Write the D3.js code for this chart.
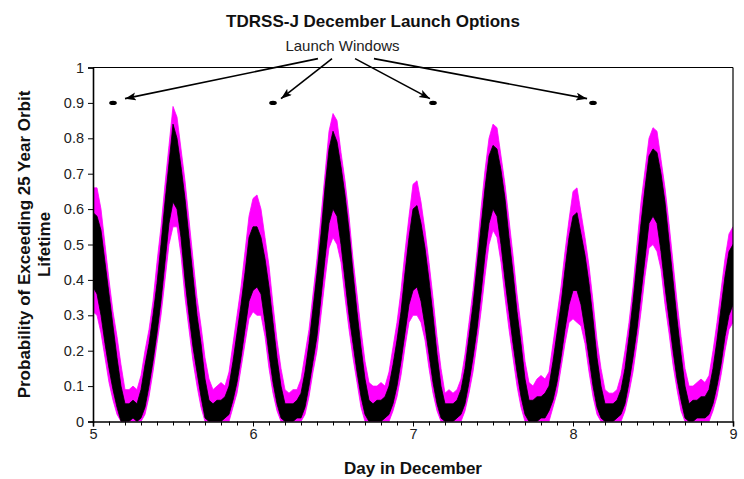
<!DOCTYPE html>
<html>
<head>
<meta charset="utf-8">
<script src="https://cdn.jsdelivr.net/npm/d3@7"></script>
<style>
  html, body { margin: 0; padding: 0; background: #ffffff; }
  svg { display: block; }
  text { font-family: "Liberation Sans", Arial, sans-serif; }
</style>
</head>
<body>
<svg id="chart" width="744" height="479"></svg>
<script>
// ---------------- data ----------------
const days = [
  5.000,5.025,5.050,5.075,5.100,5.125,5.150,5.175,5.200,5.225,5.250,5.275,5.300,5.325,5.350,5.375,5.400,5.425,5.450,5.475,
  5.500,5.525,5.550,5.575,5.600,5.625,5.650,5.675,5.700,5.725,5.750,5.775,5.800,5.825,5.850,5.875,5.900,5.925,5.950,5.975,
  6.000,6.025,6.050,6.075,6.100,6.125,6.150,6.175,6.200,6.225,6.250,6.275,6.300,6.325,6.350,6.375,6.400,6.425,6.450,6.475,
  6.500,6.525,6.550,6.575,6.600,6.625,6.650,6.675,6.700,6.725,6.750,6.775,6.800,6.825,6.850,6.875,6.900,6.925,6.950,6.975,
  7.000,7.025,7.050,7.075,7.100,7.125,7.150,7.175,7.200,7.225,7.250,7.275,7.300,7.325,7.350,7.375,7.400,7.425,7.450,7.475,
  7.500,7.525,7.550,7.575,7.600,7.625,7.650,7.675,7.700,7.725,7.750,7.775,7.800,7.825,7.850,7.875,7.900,7.925,7.950,7.975,
  8.000,8.025,8.050,8.075,8.100,8.125,8.150,8.175,8.200,8.225,8.250,8.275,8.300,8.325,8.350,8.375,8.400,8.425,8.450,8.475,
  8.500,8.525,8.550,8.575,8.600,8.625,8.650,8.675,8.700,8.725,8.750,8.775,8.800,8.825,8.850,8.875,8.900,8.925,8.950,8.975,
  9.000
];
// black band (central estimate spread), lower and upper edge
const blackLow = [
  0.38,0.36,0.30,0.22,0.15,0.09,0.04,0.00,0.00,0.00,0.01,0.00,0.01,0.04,0.10,0.17,0.25,0.34,0.45,0.56,
  0.62,0.60,0.52,0.40,0.30,0.21,0.14,0.07,0.01,0.00,0.00,0.00,0.00,0.01,0.02,0.06,0.11,0.18,0.26,0.34,
  0.37,0.38,0.36,0.28,0.19,0.11,0.05,0.01,0.00,0.00,0.00,0.01,0.01,0.04,0.10,0.17,0.24,0.35,0.46,0.56,
  0.60,0.58,0.50,0.40,0.30,0.22,0.14,0.07,0.02,0.00,0.00,0.00,0.00,0.01,0.02,0.05,0.10,0.17,0.25,0.33,
  0.37,0.38,0.34,0.27,0.19,0.11,0.05,0.01,0.00,0.00,0.00,0.01,0.02,0.05,0.11,0.18,0.26,0.36,0.47,0.56,
  0.60,0.58,0.50,0.40,0.31,0.22,0.14,0.07,0.02,0.00,0.00,0.00,0.01,0.01,0.03,0.06,0.11,0.18,0.26,0.33,
  0.37,0.37,0.33,0.26,0.18,0.10,0.04,0.01,0.00,0.00,0.00,0.01,0.02,0.05,0.11,0.18,0.26,0.36,0.46,0.56,
  0.58,0.56,0.48,0.38,0.29,0.20,0.12,0.06,0.01,0.00,0.00,0.01,0.01,0.01,0.02,0.05,0.10,0.16,0.24,0.30,
  0.33
];
const blackHigh = [
  0.59,0.58,0.54,0.45,0.36,0.27,0.18,0.10,0.05,0.05,0.06,0.05,0.09,0.16,0.22,0.30,0.39,0.50,0.62,0.73,
  0.84,0.80,0.72,0.63,0.52,0.41,0.30,0.22,0.12,0.06,0.05,0.06,0.06,0.07,0.10,0.17,0.25,0.33,0.42,0.52,
  0.55,0.55,0.52,0.46,0.38,0.28,0.18,0.10,0.05,0.05,0.05,0.06,0.08,0.14,0.22,0.32,0.42,0.53,0.66,0.77,
  0.82,0.79,0.72,0.64,0.54,0.42,0.31,0.21,0.12,0.06,0.05,0.06,0.06,0.07,0.10,0.16,0.23,0.31,0.42,0.52,
  0.60,0.61,0.56,0.49,0.40,0.30,0.19,0.10,0.05,0.05,0.05,0.06,0.09,0.15,0.24,0.33,0.44,0.55,0.66,0.75,
  0.78,0.77,0.71,0.63,0.52,0.42,0.31,0.22,0.12,0.06,0.06,0.07,0.07,0.08,0.10,0.17,0.25,0.33,0.43,0.52,
  0.58,0.59,0.53,0.47,0.39,0.29,0.18,0.10,0.05,0.05,0.05,0.06,0.09,0.15,0.24,0.34,0.45,0.56,0.66,0.75,
  0.77,0.76,0.70,0.62,0.51,0.40,0.29,0.19,0.10,0.05,0.06,0.06,0.07,0.07,0.09,0.15,0.23,0.32,0.41,0.48,
  0.50
];
// magenta band (full spread), lower and upper edge
const magentaLow = [
  0.31,0.30,0.25,0.18,0.11,0.06,0.02,0.00,0.00,0.00,0.00,0.00,0.00,0.02,0.07,0.14,0.22,0.30,0.40,0.50,
  0.55,0.55,0.47,0.35,0.26,0.17,0.10,0.04,0.00,0.00,0.00,0.00,0.00,0.00,0.00,0.04,0.08,0.15,0.22,0.29,
  0.31,0.30,0.30,0.24,0.15,0.08,0.03,0.00,0.00,0.00,0.00,0.00,0.00,0.02,0.07,0.14,0.20,0.30,0.40,0.49,
  0.52,0.50,0.45,0.35,0.26,0.18,0.11,0.04,0.00,0.00,0.00,0.00,0.00,0.00,0.00,0.03,0.07,0.13,0.21,0.28,
  0.30,0.30,0.28,0.23,0.15,0.08,0.03,0.00,0.00,0.00,0.00,0.00,0.00,0.03,0.08,0.14,0.22,0.31,0.41,0.50,
  0.54,0.52,0.45,0.35,0.26,0.18,0.10,0.04,0.00,0.00,0.00,0.00,0.00,0.00,0.00,0.04,0.08,0.15,0.22,0.28,
  0.29,0.28,0.27,0.22,0.14,0.07,0.02,0.00,0.00,0.00,0.00,0.00,0.00,0.03,0.08,0.14,0.22,0.31,0.41,0.49,
  0.50,0.48,0.43,0.33,0.25,0.16,0.09,0.03,0.00,0.00,0.00,0.00,0.00,0.00,0.00,0.03,0.07,0.13,0.20,0.26,
  0.28
];
const magentaHigh = [
  0.66,0.66,0.60,0.50,0.40,0.31,0.24,0.16,0.09,0.09,0.10,0.09,0.13,0.20,0.26,0.34,0.45,0.55,0.67,0.78,
  0.89,0.86,0.77,0.68,0.57,0.46,0.35,0.27,0.18,0.12,0.09,0.10,0.11,0.10,0.14,0.22,0.30,0.38,0.48,0.58,
  0.63,0.64,0.60,0.52,0.44,0.33,0.23,0.15,0.09,0.08,0.09,0.09,0.12,0.19,0.26,0.36,0.46,0.58,0.70,0.82,
  0.87,0.85,0.76,0.68,0.58,0.46,0.36,0.26,0.17,0.11,0.10,0.10,0.11,0.10,0.14,0.21,0.28,0.37,0.48,0.58,
  0.67,0.68,0.62,0.54,0.45,0.35,0.24,0.15,0.08,0.09,0.08,0.09,0.12,0.19,0.28,0.37,0.48,0.60,0.71,0.80,
  0.84,0.83,0.75,0.67,0.57,0.47,0.36,0.27,0.17,0.11,0.10,0.12,0.13,0.12,0.14,0.22,0.30,0.38,0.48,0.57,
  0.65,0.66,0.59,0.52,0.44,0.34,0.23,0.15,0.09,0.08,0.08,0.09,0.13,0.20,0.28,0.38,0.50,0.62,0.71,0.80,
  0.83,0.82,0.74,0.66,0.56,0.45,0.34,0.24,0.15,0.10,0.10,0.11,0.12,0.11,0.13,0.20,0.28,0.37,0.46,0.53,
  0.55
];
// launch window markers
const windowDays = [5.125, 6.125, 7.125, 8.125];
const windowValues = [0.9, 0.9, 0.9, 0.9];
// arrow annotation: starts under the label, tips near each marker (data units)
const arrowStartDays = [6.406, 6.494, 6.638, 6.756];
const arrowStartValues = [1.025, 1.025, 1.025, 1.025];
const arrowTipDays = [5.20, 6.175, 7.106, 8.088];
const arrowTipValues = [0.912, 0.912, 0.912, 0.912];

const xMajorTicks = [5, 6, 7, 8, 9];
const xMinorTicks = [5.1,5.2,5.3,5.4,5.5,5.6,5.7,5.8,5.9,6.1,6.2,6.3,6.4,6.5,6.6,6.7,6.8,6.9,
                     7.1,7.2,7.3,7.4,7.5,7.6,7.7,7.8,7.9,8.1,8.2,8.3,8.4,8.5,8.6,8.7,8.8,8.9];
const yTicks = [0,0.1,0.2,0.3,0.4,0.5,0.6,0.7,0.8,0.9,1];

const titleText = "TDRSS-J December Launch Options";
const annotationText = "Launch Windows";
const xLabel = "Day in December";
const yLabelLines = ["Probability of Exceeding 25 Year Orbit", "Lifetime"];

// ---------------- drawing ----------------
const svg = d3.select("#chart");
const W = 744, H = 479;
const plot = { left: 93, right: 733, top: 67.5, bottom: 421.5 };

const x = d3.scaleLinear().domain([5, 9]).range([plot.left, plot.right]);
const y = d3.scaleLinear().domain([0, 1]).range([plot.bottom, plot.top]);

const rows = days.map((d, i) => ({
  d, bl: blackLow[i], bh: blackHigh[i], ml: magentaLow[i], mh: magentaHigh[i]
}));

svg.append("rect").attr("width", W).attr("height", H).attr("fill", "#ffffff");

svg.append("defs").append("clipPath").attr("id", "clip")
  .append("rect")
  .attr("x", plot.left).attr("y", plot.top)
  .attr("width", plot.right - plot.left).attr("height", plot.bottom - plot.top);

const gData = svg.append("g").attr("clip-path", "url(#clip)");

const magArea = d3.area()
  .x(r => x(r.d)).y0(r => y(r.ml)).y1(r => y(r.mh))
  .curve(d3.curveLinear);
const blkArea = d3.area()
  .x(r => x(r.d)).y0(r => y(r.bl)).y1(r => y(r.bh))
  .curve(d3.curveLinear);

gData.append("path").datum(rows).attr("d", magArea)
  .attr("fill", "#ff00ff").attr("stroke", "#ff00ff").attr("stroke-width", 0.8);
gData.append("path").datum(rows).attr("d", blkArea)
  .attr("fill", "#000000").attr("stroke", "#000000").attr("stroke-width", 0.8);

// frame top/right
svg.append("line").attr("x1", x(5)).attr("x2", x(9)).attr("y1", y(1)).attr("y2", y(1))
  .attr("stroke", "#000").attr("stroke-width", 1.2);
svg.append("line").attr("x1", x(9)).attr("x2", x(9)).attr("y1", y(1)).attr("y2", y(0))
  .attr("stroke", "#000").attr("stroke-width", 1.2);

// y axis
const yAxis = d3.axisLeft(y).tickValues(yTicks).tickSize(5).tickPadding(4)
  .tickFormat(d => d3.format("")(+d.toFixed(1)));
const gy = svg.append("g").attr("transform", `translate(${plot.left},0)`).call(yAxis);
gy.select(".domain").attr("stroke", "#000").attr("stroke-width", 1.6);
gy.selectAll(".tick line").attr("stroke", "#000").attr("stroke-width", 1);
gy.selectAll(".tick text").attr("font-size", "14.5px").attr("fill", "#222")
  .attr("font-family", "Liberation Sans, Arial, sans-serif");

// x axis minor
const xMinor = d3.axisBottom(x).tickValues(xMinorTicks).tickSize(4).tickFormat("");
const gxm = svg.append("g").attr("transform", `translate(0,${plot.bottom})`).call(xMinor);
gxm.select(".domain").remove();
gxm.selectAll(".tick line").attr("stroke", "#000").attr("stroke-width", 1);

// x axis major
const xAxis = d3.axisBottom(x).tickValues(xMajorTicks).tickSize(5).tickPadding(2)
  .tickFormat(d3.format("d"));
const gx = svg.append("g").attr("transform", `translate(0,${plot.bottom})`).call(xAxis);
gx.select(".domain").attr("stroke", "#000").attr("stroke-width", 1.6);
gx.selectAll(".tick line").attr("stroke", "#000").attr("stroke-width", 1);
gx.selectAll(".tick text").attr("font-size", "14.5px").attr("fill", "#222")
  .attr("font-family", "Liberation Sans, Arial, sans-serif");

// launch window markers
svg.append("g").selectAll("ellipse").data(windowDays).join("ellipse")
  .attr("cx", (d) => x(d)).attr("cy", (d, i) => y(windowValues[i]))
  .attr("rx", 3.8).attr("ry", 2.1).attr("fill", "#000");

// arrows
svg.select("defs").append("marker")
  .attr("id", "arrowhead").attr("markerUnits", "userSpaceOnUse")
  .attr("markerWidth", 12).attr("markerHeight", 9)
  .attr("refX", 11).attr("refY", 4).attr("orient", "auto")
  .append("path").attr("d", "M0,0 L11,4 L0,8 L2.5,4 Z").attr("fill", "#000");

svg.append("g").selectAll("line").data(arrowStartDays).join("line")
  .attr("x1", d => x(d)).attr("y1", (d, i) => y(arrowStartValues[i]))
  .attr("x2", (d, i) => x(arrowTipDays[i])).attr("y2", (d, i) => y(arrowTipValues[i]))
  .attr("stroke", "#000").attr("stroke-width", 1.6)
  .attr("marker-end", "url(#arrowhead)");

// texts
svg.append("text").attr("x", 373).attr("y", 27)
  .attr("text-anchor", "middle").attr("font-size", "17px").attr("font-weight", "bold")
  .attr("fill", "#111").text(titleText);

svg.append("text").attr("x", 342.5).attr("y", 51)
  .attr("text-anchor", "middle").attr("font-size", "15px")
  .attr("fill", "#222").text(annotationText);

svg.append("text").attr("x", (plot.left + plot.right) / 2).attr("y", 474)
  .attr("text-anchor", "middle").attr("font-size", "17px").attr("font-weight", "bold")
  .attr("fill", "#111").text(xLabel);

const yl = svg.append("text")
  .attr("transform", `translate(30,${(plot.top + plot.bottom) / 2}) rotate(-90)`)
  .attr("text-anchor", "middle").attr("font-size", "17px").attr("font-weight", "bold")
  .attr("fill", "#111");
yl.append("tspan").attr("x", 0).attr("y", 0).text(yLabelLines[0]);
yl.append("tspan").attr("x", 0).attr("y", 20).text(yLabelLines[1]);
</script>
</body>
</html>
